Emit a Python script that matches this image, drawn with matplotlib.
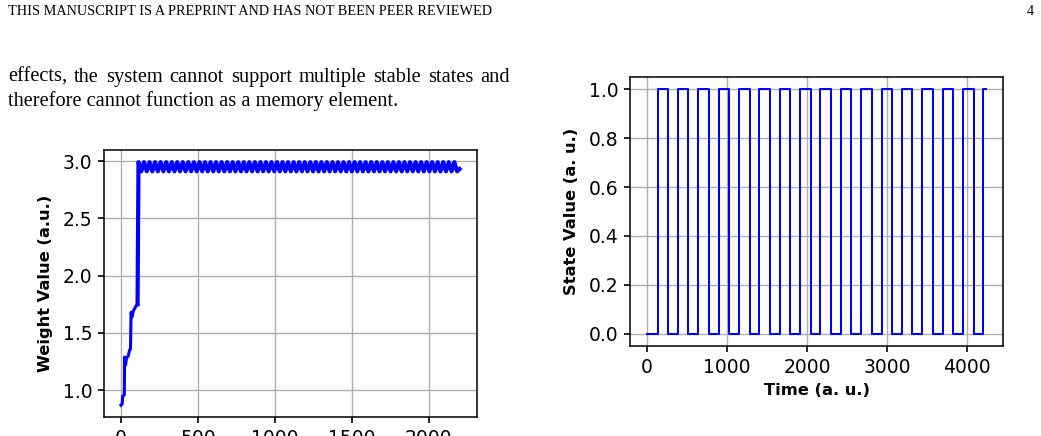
import matplotlib
matplotlib.use("Agg")
import matplotlib.pyplot as plt
from matplotlib.font_manager import FontProperties

# ---------------- data ----------------
header_text = "THIS MANUSCRIPT IS A PREPRINT AND HAS NOT BEEN PEER REVIEWED"
page_number = "4"
para_line1 = "effects, the system cannot support multiple stable states and"
para_line2 = "therefore cannot function as a memory element."

# Left panel: weight value (early learning phase)
weight_t_early = [0, 8, 12, 22, 24, 30, 36, 48, 56, 62, 66, 72, 80, 92, 100, 108]
weight_w_early = [0.87, 0.88, 0.95, 0.96, 1.29, 1.22, 1.28, 1.30, 1.35, 1.36,
                  1.68, 1.64, 1.69, 1.72, 1.74, 1.75]
# saturated phase: oscillation between peak and trough
weight_peak_t = [114, 150, 186, 222, 258, 294, 330, 366, 402, 438, 474, 510, 546,
                 582, 618, 654, 690, 726, 762, 798, 834, 870, 906, 942, 978, 1014,
                 1050, 1086, 1122, 1158, 1194, 1230, 1266, 1302, 1338, 1374, 1410,
                 1446, 1482, 1518, 1554, 1590, 1626, 1662, 1698, 1734, 1770, 1806,
                 1842, 1878, 1914, 1950, 1986, 2022, 2058, 2094, 2130, 2166]
weight_trough_t = [132, 168, 204, 240, 276, 312, 348, 384, 420, 456, 492, 528, 564,
                   600, 636, 672, 708, 744, 780, 816, 852, 888, 924, 960, 996, 1032,
                   1068, 1104, 1140, 1176, 1212, 1248, 1284, 1320, 1356, 1392, 1428,
                   1464, 1500, 1536, 1572, 1608, 1644, 1680, 1716, 1752, 1788, 1824,
                   1860, 1896, 1932, 1968, 2004, 2040, 2076, 2112, 2148, 2184]
weight_peak_level = 2.99
weight_trough_level = 2.91
weight_end = (2200, 2.93)

# Right panel: state value square wave
state_rise_t = [132, 387, 641, 896, 1150, 1405, 1659, 1914, 2168, 2423, 2677,
                2932, 3186, 3441, 3695, 3950, 4204]
state_fall_t = [264, 519, 773, 1028, 1282, 1537, 1791, 2046, 2300, 2555, 2809,
                3064, 3318, 3573, 3827, 4082]
state_end_t = 4237

left_yticks = [1.0, 1.5, 2.0, 2.5, 3.0]
left_xticks = [0, 500, 1000, 1500, 2000]
right_yticks = [0.0, 0.2, 0.4, 0.6, 0.8, 1.0]
right_xticks = [0, 1000, 2000, 3000, 4000]

# ---------------- build series ----------------
sat_t = [weight_t_early[-1]]
sat_w = [weight_w_early[-1]]
for p, tr in zip(weight_peak_t, weight_trough_t):
    sat_t += [p, tr]
    sat_w += [weight_peak_level, weight_trough_level]
sat_t.append(weight_end[0])
sat_w.append(weight_end[1])

st = [0]
sv = [0]
for i, r in enumerate(state_rise_t):
    st.append(r); sv.append(1)
    if i < len(state_fall_t):
        st.append(state_fall_t[i]); sv.append(0)
st.append(state_end_t); sv.append(1)

# ---------------- figure ----------------
W, H = 1041, 436
fig = plt.figure(figsize=(W / 100, H / 100), dpi=100)
fig.patch.set_facecolor("white")

def px_axes(x0, x1, ytop, ybot):
    return fig.add_axes([x0 / W, 1 - ybot / H, (x1 - x0) / W, (ybot - ytop) / H])

TICK_FS = 13.5
LABEL_FS = 11.7

def style(ax):
    ax.grid(True, color="#b0b0b0", lw=1.0)
    ax.tick_params(labelsize=TICK_FS, length=4.3, width=1.2, pad=4, colors="black")
    for s in ax.spines.values():
        s.set_linewidth(1.1)
        s.set_color("black")

# Left panel
axL = px_axes(104, 476.5, 150, 417.3)
axL.plot(weight_t_early, weight_w_early, color="#0000ff", lw=2.2)
axL.plot(sat_t, sat_w, color="#0000ff", lw=3.0)
axL.set_xticks(left_xticks)
axL.set_yticks(left_yticks)
style(axL)
axL.set_ylabel("Weight Value (a.u.)", fontsize=LABEL_FS, fontweight="bold", va="center")
axL.yaxis.set_label_coords((45.5 - 104) / (476.5 - 104), 0.5)

# Right panel
axR = px_axes(630, 1003, 77, 346)
axR.plot(st, sv, color="#0000ff", lw=1.45, drawstyle="steps-post")
axR.set_xticks(right_xticks)
axR.set_yticks(right_yticks)
style(axR)
axR.set_ylabel("State Value (a. u.)", fontsize=LABEL_FS, fontweight="bold", va="center")
axR.yaxis.set_label_coords((572 - 630) / (1003 - 630), 0.5)
axR.set_xlabel("Time (a. u.)", fontsize=LABEL_FS, fontweight="bold", va="center")
axR.xaxis.set_label_coords(0.5, -(390 - 346) / (346 - 77))

# ---------------- page text ----------------
serif = "Liberation Serif"
fig.text(8 / W, 1 - 15 / H, header_text, family=serif, fontsize=10.3, va="baseline", ha="left")
fig.text(1034 / W, 1 - 15 / H, page_number, family=serif, fontsize=10.3, va="baseline", ha="right")

PARA_FS = 14.7
renderer = fig.canvas.get_renderer()
fp = FontProperties(family=serif, size=PARA_FS)

def text_w(s):
    w, h, d = renderer.get_text_width_height_descent(s, fp, ismath=False)
    return w

def justified(line, x0, x1, ybase):
    words = line.split(" ")
    widths = [text_w(w) for w in words]
    gap = ((x1 - x0) - sum(widths)) / (len(words) - 1)
    x = x0
    for w, wd in zip(words, widths):
        fig.text(x / W, 1 - ybase / H, w, fontproperties=fp, va="baseline", ha="left")
        x += wd + gap

justified(para_line1, 8, 510, 82)
fig.text(8 / W, 1 - 106 / H, para_line2, fontproperties=fp, va="baseline", ha="left")

fig.savefig("out.png", dpi=100, facecolor="white")
